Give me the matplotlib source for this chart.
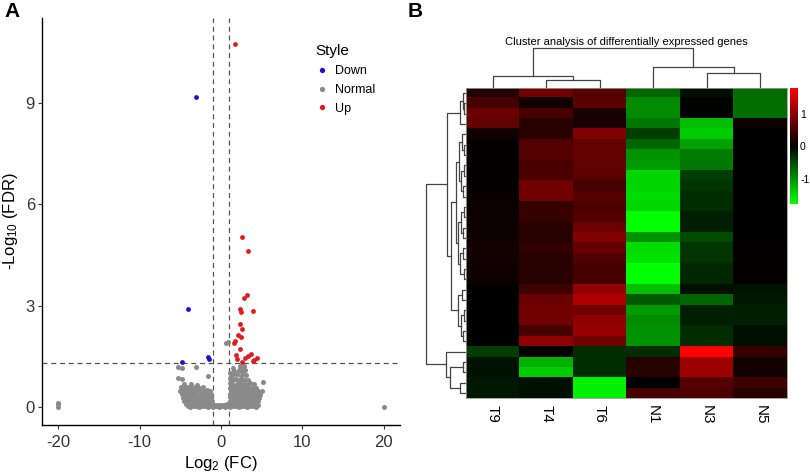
import numpy as np
import matplotlib
matplotlib.use('Agg')
import matplotlib.pyplot as plt
from matplotlib.colors import LinearSegmentedColormap
from matplotlib.lines import Line2D

plt.rcParams['font.family'] = ['Liberation Sans', 'DejaVu Sans']
plt.rcParams['mathtext.default'] = 'regular'
plt.rcParams['axes.unicode_minus'] = False

# ---- panel A: volcano data (log2 FC, -log10 FDR) ----
down_fc = [-3.1, -4.0, -4.85, -1.65, -1.5]
down_fdr = [9.19, 2.91, 1.33, 1.48, 1.42]

up_fc = [1.78, 2.6, 3.3, 3.14, 2.8, 2.36, 2.44, 3.88, 2.32, 2.56, 2.03, 2.44,
         1.75, 1.62, 2.28, 1.87, 3.26, 3.72, 2.9, 4.45, 1.91, 3.91, 2.56, 4.04]
up_fdr = [10.75, 5.05, 4.62, 3.31, 3.22, 2.91, 2.80, 2.85, 2.45, 2.31, 2.12, 2.08,
          1.94, 1.90, 1.71, 1.53, 1.51, 1.56, 1.45, 1.46, 1.43, 1.36, 1.33, 1.38]

normal_pts = [
    (-4.1, 0.02), (-3.75, 0.00), (-3.4, 0.03), (-3.05, 0.01), (-2.7, 0.00), (-2.35, 0.02),
    (-2.0, 0.01), (-1.65, 0.00), (-1.3, 0.02), (-0.95, 0.00), (-0.6, 0.01), (-0.25, 0.00),
    (0.1, 0.02), (0.45, 0.00), (0.8, 0.01), (1.15, 0.00), (1.5, 0.02), (1.85, 0.01),
    (2.2, 0.00), (2.55, 0.02), (2.9, 0.01), (3.25, 0.00), (3.6, 0.02), (3.95, 0.01), (4.25, 0.00),
    (-4.35, 0.08), (-3.95, 0.10), (-3.6, 0.07), (-3.2, 0.09), (-2.85, 0.11), (-2.5, 0.08),
    (-2.15, 0.10), (-1.8, 0.07), (-1.45, 0.09), (-1.1, 0.08), (-0.75, 0.06), (-0.4, 0.05),
    (0.0, 0.06), (0.35, 0.05), (0.7, 0.07), (1.0, 0.09), (1.35, 0.08), (1.7, 0.10),
    (2.05, 0.07), (2.4, 0.11), (2.75, 0.09), (3.1, 0.08), (3.45, 0.10), (3.8, 0.07),
    (4.15, 0.09), (4.5, 0.06),
    (-4.55, 0.17), (-4.15, 0.19), (-3.8, 0.16), (-3.45, 0.20), (-3.1, 0.18), (-2.7, 0.17),
    (-2.3, 0.19), (-1.95, 0.16), (-1.55, 0.18), (-1.15, 0.17), (1.05, 0.18), (1.4, 0.16),
    (1.75, 0.20), (2.1, 0.17), (2.45, 0.19), (2.8, 0.16), (3.15, 0.20), (3.5, 0.18),
    (3.85, 0.17), (4.2, 0.19), (4.6, 0.16),
    (-4.7, 0.27), (-4.3, 0.29), (-3.9, 0.26), (-3.55, 0.30), (-3.2, 0.28), (-2.85, 0.26),
    (-2.45, 0.29), (-2.05, 0.27), (-1.65, 0.30), (-1.2, 0.28), (1.1, 0.29), (1.45, 0.27),
    (1.85, 0.30), (2.2, 0.26), (2.55, 0.29), (2.9, 0.27), (3.25, 0.30), (3.6, 0.28),
    (3.95, 0.26), (4.35, 0.29), (4.7, 0.27),
    (-4.85, 0.37), (-4.45, 0.39), (-4.05, 0.36), (-3.65, 0.40), (-3.3, 0.38), (-2.9, 0.36),
    (-2.5, 0.39), (-2.1, 0.37), (-1.7, 0.40), (-1.25, 0.38), (1.15, 0.39), (1.5, 0.37),
    (1.9, 0.40), (2.25, 0.36), (2.6, 0.39), (2.95, 0.38), (3.3, 0.36), (3.65, 0.40),
    (4.0, 0.37), (4.4, 0.39), (4.8, 0.36),
    (-5.0, 0.47), (-4.6, 0.49), (-4.2, 0.46), (-3.8, 0.50), (-3.4, 0.48), (-3.0, 0.46),
    (-2.6, 0.50), (-2.15, 0.47), (-1.75, 0.49), (-1.3, 0.46), (1.2, 0.48), (1.6, 0.50),
    (1.95, 0.46), (2.35, 0.49), (2.7, 0.47), (3.05, 0.50), (3.4, 0.48), (3.75, 0.46),
    (4.1, 0.49), (4.55, 0.47), (5.0, 0.48),
    (-4.9, 0.58), (-4.45, 0.56), (-4.0, 0.60), (-3.6, 0.57), (-3.15, 0.59), (-2.7, 0.56),
    (-2.25, 0.58), (1.3, 0.57), (1.7, 0.60), (2.05, 0.56), (2.45, 0.59), (2.8, 0.57),
    (3.15, 0.60), (3.5, 0.56), (3.9, 0.59), (4.35, 0.57), (5.2, 0.74), (1.05, 0.55),
    (-4.6, 0.67), (-3.7, 0.69), (-2.9, 0.66), (1.4, 0.68), (1.8, 0.66), (2.15, 0.70),
    (2.5, 0.67), (2.85, 0.69), (3.2, 0.66), (3.55, 0.70), (4.0, 0.68), (1.1, 0.70),
    (-4.8, 0.83), (-5.3, 0.86), (-1.6, 0.91), (1.5, 0.78), (1.9, 0.81), (2.3, 0.79),
    (2.6, 0.82), (3.0, 0.78), (3.35, 0.80), (1.05, 0.85),
    (1.45, 0.93), (1.95, 0.96), (2.4, 0.92), (2.75, 0.97), (3.1, 0.94), (1.1, 1.0),
    (1.6, 1.05), (2.2, 1.08), (2.6, 1.04), (2.95, 1.10), (1.5, 1.15), (2.5, 1.16),
    (2.85, 1.20), (2.3, 1.22), (-5.3, 1.19), (-4.8, 1.14), (-3.05, 1.19),
    (0.65, 1.88), (0.85, 1.92),
    (-20, 0.0), (-20, 0.07), (-20, 0.12), (20, 0.0),
]

fc_cut = 1
fdr_cut = 1.3

# ---- panel B: heatmap data (rows top to bottom) ----
samples = ['T9', 'T4', 'T6', 'N1', 'N3', 'N5']
heat_T9 = [0.25, 0.5, 0.75, 0.7, 0.15, 0.05, 0.05, 0.05, 0.05, 0.05, 0.08, 0.1, 0.1, 0.1, 0.12,
           0.15, 0.15, 0.12, 0.12, 0.02, 0.02, 0.02, 0.02, 0.02, 0.02, -0.4, -0.12, -0.1, -0.15, -0.15]
heat_T4 = [0.8, 0.15, 0.5, 0.3, 0.3, 0.6, 0.6, 0.5, 0.55, 0.8, 0.8, 0.4, 0.4, 0.3, 0.3,
           0.35, 0.3, 0.3, 0.3, 0.45, 0.75, 0.8, 0.8, 0.5, 1.0, 0.0, -1.2, -1.4, -0.1, -0.1]
heat_T6 = [0.6, 0.65, 0.2, 0.2, 0.9, 0.7, 0.7, 0.7, 0.65, 0.5, 0.6, 0.55, 0.6, 0.75, 0.9,
           0.7, 0.6, 0.5, 0.5, 1.05, 1.2, 0.8, 1.0, 1.05, 0.8, -0.3, -0.3, -0.3, -1.65, -1.65]
heat_N1 = [-0.7, -0.95, -0.95, -0.8, -0.4, -0.7, -1.0, -1.05, -1.45, -1.45, -1.5, -1.45, -1.75, -1.75, -1.0,
           -1.5, -1.55, -1.75, -1.75, -1.3, -0.6, -1.05, -0.95, -1.0, -1.0, -0.3, 0.3, 0.3, 0.02, 0.5]
heat_N3 = [-0.1, 0.0, 0.0, -1.3, -1.4, -1.1, -0.85, -0.8, -0.4, -0.35, -0.3, -0.3, -0.2, -0.2, -0.5,
           -0.35, -0.35, -0.25, -0.25, -0.1, -0.7, -0.2, -0.2, -0.3, -0.3, 1.78, 1.1, 1.1, 0.6, 0.55]
heat_N5 = [-0.75, -0.75, -0.75, 0.1, 0.02, 0.02, 0.02, 0.02, 0.02, 0.02, 0.02, 0.02, 0.02, 0.02, 0.02,
           0.03, 0.03, 0.03, 0.03, -0.12, -0.15, -0.2, -0.2, -0.1, -0.1, 0.4, 0.15, 0.15, 0.45, 0.3]

# dendrograms as (height, left, right), leaves are row / column indices
col_tree = (40.3, (12, 0, (8, 1, 2)), (21.3, 3, (14.7, 4, 5)))
row_tree = (40,
            (19,
             (6, (3, 0, (2, 1, 2)), 3),
             (15,
              (10,
               (7, (4, 4, (2, 5, 6)), (5, (2, 7, 8), (3, 9, 10))),
               (8, (5, (2, 11, 12), (3, 13, 14)), (6, (3, 15, 16), (2, 17, 18)))),
              (8, (4, 19, 20), (5, (2, 21, 22), (3, 23, 24))))),
            (20, 25, (16, (3.3, 26, 27), (5.7, 28, 29))))


def draw_tree(ax, node, side):
    if isinstance(node, int):
        return node, 0.0
    h, a, b = node
    pa, ha = draw_tree(ax, a, side)
    pb, hb = draw_tree(ax, b, side)
    if side == 'top':
        ax.plot([pa, pa, pb, pb], [ha, h, h, hb], color='#444444', lw=0.9)
    else:
        ax.plot([ha, h, h, hb], [pa, pa, pb, pb], color='#444444', lw=0.9)
    return (pa + pb) / 2, h


fig = plt.figure(figsize=(8.1, 4.73), dpi=100)

# ---------------- panel A ----------------
ax = fig.add_axes([42 / 810, 1 - 425 / 473, 358 / 810, 407 / 473])
normal = np.array(normal_pts)
ax.scatter(normal[:, 0], normal[:, 1], s=13, color='#8a8a8a', linewidths=0, zorder=2)
ax.scatter(down_fc, down_fdr, s=12, color='#1515d0', linewidths=0, zorder=3)
ax.scatter(up_fc, up_fdr, s=12, color='#e3191c', linewidths=0, zorder=3)
for v in (-fc_cut, fc_cut):
    ax.axvline(v, color='#555555', lw=0.9, ls=(0, (4, 3)), zorder=1)
ax.axhline(fdr_cut, color='#555555', lw=0.9, ls=(0, (4, 3)), zorder=1)
ax.set_xlim(-22, 22)
ax.set_ylim(-0.54, 11.53)
ax.set_xticks([-20, -10, 0, 10, 20])
ax.set_yticks([0, 3, 6, 9])
for s in ('top', 'right'):
    ax.spines[s].set_visible(False)
for s in ('left', 'bottom'):
    ax.spines[s].set_linewidth(1.0)
ax.tick_params(labelsize=12, colors='#333333', length=3, width=0.8, pad=2)
ax.tick_params(axis='x', pad=4)
ax.set_xlabel('Log$_2$ (FC)', fontsize=12, labelpad=3)
ax.set_ylabel('-Log$_{10}$ (FDR)', fontsize=12, labelpad=4)

handles = [Line2D([], [], ls='', marker='o', ms=3.8, mec='none', color=c)
           for c in ('#1515d0', '#8a8a8a', '#e3191c')]
leg = ax.legend(handles, ['Down', 'Normal', 'Up'], title='Style', loc='upper left',
                bbox_to_anchor=(309 / 810, 1 - 38 / 473), bbox_transform=fig.transFigure,
                frameon=False, fontsize=9, title_fontsize=11, handlelength=1.0,
                handletextpad=0.6, labelspacing=0.55, borderpad=0, alignment='left')

fig.text(0.006, 0.995, 'A', fontsize=15, fontweight='bold', va='top', ha='left')
fig.text(0.503, 0.995, 'B', fontsize=15, fontweight='bold', va='top', ha='left')

# ---------------- panel B ----------------
data = np.array([heat_T9, heat_T4, heat_T6, heat_N1, heat_N3, heat_N5]).T
cmap = LinearSegmentedColormap.from_list('gbr', ['#00ff00', '#000000', '#ff0000'])

hx0, hx1 = 466 / 810, 787 / 810
hy0, hy1 = 1 - 398 / 473, 1 - 88 / 473
axh = fig.add_axes([hx0, hy0, hx1 - hx0, hy1 - hy0])
im = axh.imshow(data, aspect='auto', cmap=cmap, vmin=-1.75, vmax=1.78, interpolation='nearest')
axh.set_yticks([])
axh.set_xticks(range(len(samples)))
axh.set_xticklabels(samples, rotation=-90, fontsize=11)
axh.tick_params(axis='x', length=0, pad=5)
for s in axh.spines.values():
    s.set_color('#999999')
    s.set_linewidth(0.6)

axc = fig.add_axes([hx0, hy1, hx1 - hx0, 41 / 473])
draw_tree(axc, col_tree, 'top')
axc.set_xlim(-0.5, 5.5)
axc.set_ylim(0, 41)
axc.axis('off')
axc.set_title('Cluster analysis of differentially expressed genes', fontsize=8, pad=0)

axr = fig.add_axes([425 / 810, hy0, 41 / 810, hy1 - hy0])
draw_tree(axr, row_tree, 'left')
axr.set_ylim(len(heat_T9) - 0.5, -0.5)
axr.set_xlim(41, 0)
axr.axis('off')

axcb = fig.add_axes([790 / 810, 1 - 204 / 473, 8 / 810, 116 / 473])
cb = fig.colorbar(im, cax=axcb, ticks=[-1, 0, 1])
cb.outline.set_visible(False)
cb.ax.tick_params(length=0, labelsize=7.5, pad=1.5)

fig.savefig('out.png', dpi=100)
